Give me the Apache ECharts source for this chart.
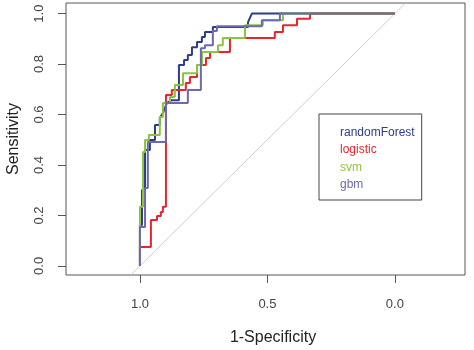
<!DOCTYPE html>
<html>
<head>
<meta charset="utf-8">
<title>ROC</title>
<script src="https://cdn.jsdelivr.net/npm/echarts/dist/echarts.min.js"></script>
<style>
  html, body { margin: 0; padding: 0; background: #fff; }
  #RocEchart { width: 474px; height: 350px; }
</style>
</head>
<body>
<div id="RocEchart"></div>
<script>
// 模型名称
const models = ['randomForest', 'logistic', 'svm', 'gbm']
// 曲线颜色
const colors = ['#2e3c8e', '#e5262c', '#8cc43e', '#6a6aae']
// 刻度
const xTicks = [0, 0.5, 1]
const yTicks = [0, 0.2, 0.4, 0.6, 0.8, 1]
// 坐标范围
const xMin = -0.275, xMax = 1.29
const yMin = -0.036, yMax = 1.042

// ROC 曲线 [specificity, sensitivity]
const randomForest = [
  [1, 0], [1, 0.162], [0.992, 0.162], [0.992, 0.301], [0.98, 0.301], [0.98, 0.459],
  [0.961, 0.459], [0.961, 0.499], [0.941, 0.499], [0.941, 0.558], [0.922, 0.558],
  [0.922, 0.586], [0.91, 0.606], [0.894, 0.646], [0.875, 0.657], [0.847, 0.657],
  [0.847, 0.796], [0.827, 0.796], [0.827, 0.816], [0.812, 0.816], [0.812, 0.836],
  [0.796, 0.836], [0.796, 0.867], [0.776, 0.867], [0.776, 0.887], [0.757, 0.887],
  [0.757, 0.907], [0.745, 0.907], [0.745, 0.927], [0.714, 0.927], [0.714, 0.947],
  [0.576, 0.947], [0.576, 0.966], [0.561, 1], [0, 1]
]
const logistic = [
  [1, 0], [1, 0.075], [0.957, 0.075], [0.957, 0.182], [0.933, 0.182], [0.933, 0.198],
  [0.918, 0.198], [0.918, 0.214], [0.91, 0.214], [0.91, 0.234], [0.898, 0.234],
  [0.898, 0.677], [0.875, 0.677], [0.875, 0.697], [0.82, 0.697], [0.82, 0.725],
  [0.804, 0.725], [0.804, 0.749], [0.776, 0.749], [0.776, 0.796], [0.741, 0.796],
  [0.741, 0.824], [0.725, 0.824], [0.725, 0.848], [0.647, 0.848], [0.647, 0.903],
  [0.471, 0.903], [0.471, 0.927], [0.439, 0.927], [0.439, 0.954], [0.384, 0.954],
  [0.384, 0.98], [0.333, 0.98], [0.333, 1], [0, 1]
]
const svm = [
  [1, 0], [1, 0.234], [0.988, 0.234], [0.988, 0.451], [0.98, 0.451], [0.98, 0.499],
  [0.965, 0.499], [0.965, 0.519], [0.922, 0.519], [0.922, 0.59], [0.91, 0.59],
  [0.91, 0.646], [0.882, 0.646], [0.882, 0.669], [0.863, 0.669], [0.863, 0.717],
  [0.831, 0.717], [0.831, 0.764], [0.776, 0.764], [0.776, 0.796], [0.757, 0.796],
  [0.757, 0.848], [0.694, 0.848], [0.694, 0.875], [0.675, 0.875], [0.675, 0.903],
  [0.588, 0.903], [0.588, 0.954], [0.518, 0.954], [0.518, 0.974], [0.439, 0.974],
  [0.439, 1], [0, 1]
]
const gbm = [
  [1, 0], [1, 0.154], [0.98, 0.154], [0.98, 0.309], [0.969, 0.309], [0.969, 0.491],
  [0.898, 0.491], [0.898, 0.646], [0.812, 0.646], [0.812, 0.697], [0.761, 0.697],
  [0.761, 0.863], [0.745, 0.863], [0.745, 0.875], [0.714, 0.875], [0.714, 0.931],
  [0.698, 0.931], [0.698, 0.95], [0.522, 0.95], [0.522, 0.974], [0.451, 0.974],
  [0.451, 1], [0, 1]
]
const curves = [randomForest, logistic, svm, gbm]

const font = '"Liberation Sans", Arial, sans-serif'

let myChart = echarts.init(document.getElementById('RocEchart'))

// 对角参考线
const series = [{
  type: 'line',
  data: [[1 - yMin, yMin], [1 - yMax, yMax]],
  symbol: 'none',
  silent: true,
  lineStyle: { color: '#cfcfcf', width: 1 }
}]
curves.forEach((c, i) => {
  series.push({
    name: models[i],
    type: 'line',
    data: c,
    symbol: 'none',
    lineStyle: { color: colors[i], width: 2 },
    itemStyle: { color: colors[i] }
  })
})

const option = {
  backgroundColor: '#fff',
  animation: false,
  grid: {
    left: 66,
    right: 9,
    top: 3,
    bottom: 75,
    outerBoundsMode: 'none',
    containLabel: false,
    show: true,
    borderColor: '#555',
    borderWidth: 1
  },
  legend: {
    data: models.map((m, i) => ({ name: m, textStyle: { color: colors[i] } })),
    orient: 'vertical',
    left: 319,
    top: 114,
    icon: 'none',
    itemWidth: 0,
    itemHeight: 13,
    itemGap: 5,
    padding: [12, 7, 9, 16],
    borderColor: '#444',
    borderWidth: 1,
    textStyle: { fontSize: 12, fontFamily: font }
  },
  xAxis: {
    type: 'value',
    inverse: true,
    min: xMin,
    max: xMax,
    name: '1-Specificity',
    nameLocation: 'middle',
    nameGap: 55,
    nameTextStyle: { fontSize: 16, color: '#222', fontFamily: font, padding: [0, 0, 0, 15] },
    axisLine: { show: false, onZero: false },
    axisTick: { show: true, length: 8, customValues: xTicks, lineStyle: { color: '#555' } },
    axisLabel: {
      customValues: xTicks,
      margin: 23,
      fontSize: 13,
      color: '#444',
      fontFamily: font,
      formatter: (v) => v.toFixed(1)
    },
    splitLine: { show: false }
  },
  yAxis: {
    type: 'value',
    min: yMin,
    max: yMax,
    name: 'Sensitivity',
    nameLocation: 'middle',
    nameGap: 44,
    nameTextStyle: { fontSize: 16, color: '#222', fontFamily: font },
    axisLine: { show: false, onZero: false },
    axisTick: { show: true, length: 8, customValues: yTicks, lineStyle: { color: '#555' } },
    axisLabel: {
      customValues: yTicks,
      rotate: 90,
      margin: 20,
      fontSize: 13,
      color: '#444',
      fontFamily: font,
      formatter: (v) => v.toFixed(1)
    },
    splitLine: { show: false }
  },
  series: series
}

myChart.setOption(option)

window.onresize = function () {
  myChart.resize()
}
</script>
</body>
</html>
